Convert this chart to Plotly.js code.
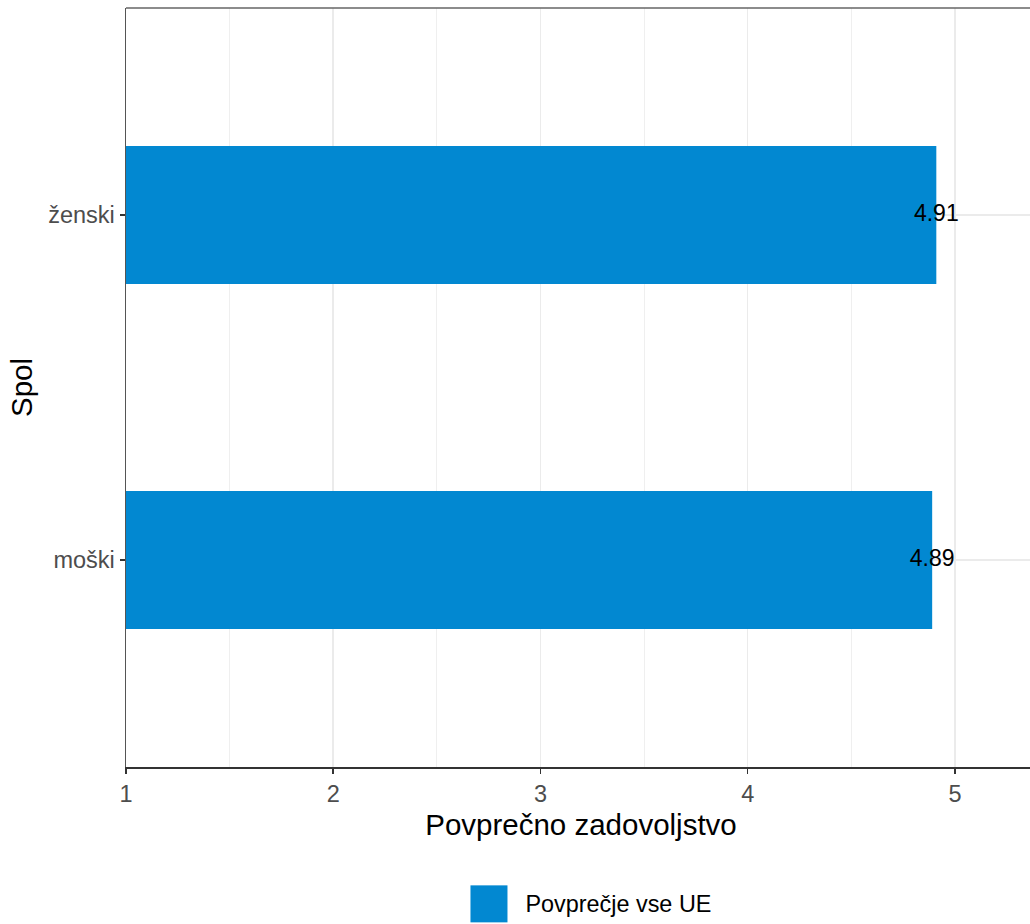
<!DOCTYPE html>
<html>
<head>
<meta charset="utf-8">
<script src="https://cdn.plot.ly/plotly-3.0.1.min.js"></script>
<style>
  html, body { margin: 0; padding: 0; overflow: hidden; background: #fff; }
  #chart { width: 1040px; height: 924px; }
</style>
</head>
<body>
<div id="chart"></div>
<script>
const categories = ['moški', 'ženski'];
const values = [4.89, 4.91];
const labels = ['4.89', '4.91'];
const seriesName = 'Povprečje vse UE';
const xTickVals = [1, 2, 3, 4, 5];
const xMinorVals = [1.5, 2.5, 3.5, 4.5];

const FONT = 'Liberation Sans, Arial, sans-serif';
const BLUE = '#0288d1';

const traces = [
  {
    type: 'bar',
    orientation: 'h',
    y: categories,
    x: values,
    width: 0.4,
    name: seriesName,
    marker: { color: BLUE },
    hoverinfo: 'skip',
    showlegend: true
  },
  {
    type: 'scatter',
    mode: 'text',
    y: categories,
    x: values,
    text: labels,
    textposition: 'middle center',
    textfont: { family: FONT, size: 23, color: '#000' },
    showlegend: false,
    hoverinfo: 'skip'
  }
];

const layout = {
  width: 1040,
  height: 924,
  margin: { l: 126, r: 4, t: 8, b: 157, autoexpand: false },
  paper_bgcolor: '#fff',
  plot_bgcolor: '#fff',
  font: { family: FONT, color: '#4d4d4d' },
  xaxis: {
    range: [1, 5.391],
    tickvals: xTickVals,
    ticktext: xTickVals.map(String),
    tickfont: { family: FONT, size: 23.5, color: '#4d4d4d' },
    ticks: 'outside',
    ticklen: 5,
    tickwidth: 1.5,
    tickcolor: '#333',
    showline: true,
    linecolor: '#333',
    linewidth: 1.8,
    showgrid: true,
    gridcolor: '#ebebeb',
    gridwidth: 1.5,
    minor: { tickvals: xMinorVals, showgrid: true, gridcolor: '#ebebeb', gridwidth: 0.8, ticks: '' },
    zeroline: false,
    title: { text: 'Povprečno zadovoljstvo', font: { family: FONT, size: 29.5, color: '#000' }, standoff: 8 }
  },
  yaxis: {
    type: 'category',
    categoryorder: 'array',
    categoryarray: categories,
    range: [-0.6, 1.6],
    tickfont: { family: FONT, size: 23.5, color: '#4d4d4d' },
    ticks: 'outside',
    ticklen: 5,
    tickwidth: 1.5,
    tickcolor: '#333',
    showline: true,
    linecolor: '#555',
    linewidth: 1.5,
    mirror: true,
    showgrid: true,
    gridcolor: '#ebebeb',
    gridwidth: 1.5,
    zeroline: false,
    title: { text: 'Spol', font: { family: FONT, size: 29.5, color: '#000' }, standoff: 7 }
  },
  shapes: [
    { type: 'line', xref: 'paper', yref: 'paper', x0: 0, x1: 1, y0: 1, y1: 1,
      line: { color: '#666', width: 1.5 } }
  ],
  showlegend: true,
  legend: {
    orientation: 'h',
    xref: 'container', yref: 'container',
    x: 0.4668, xanchor: 'left',
    y: 0.0227, yanchor: 'middle',
    font: { family: FONT, size: 23.4, color: '#000' },
    bgcolor: 'rgba(0,0,0,0)'
  }
};

Plotly.newPlot('chart', traces, layout, { displayModeBar: false, staticPlot: true }).then(function () {
  const gd = document.getElementById('chart');
  const item = gd.querySelector('.legend .traces');
  if (!item) return;
  item.querySelectorAll('.legendpoints path').forEach(function (p) { p.style.opacity = '0'; });
  const txt = item.querySelector('.legendtext');
  const svg = gd.querySelector('.legend').ownerSVGElement;
  if (!txt || !svg) return;
  const tb = txt.getBoundingClientRect();
  const sb = svg.getBoundingClientRect();
  const size = 37;
  const right = tb.left - sb.left - 18;
  const cy = (tb.top + tb.bottom) / 2 - sb.top;
  const r = document.createElementNS('http://www.w3.org/2000/svg', 'rect');
  r.setAttribute('x', right - size);
  r.setAttribute('y', cy - size / 2);
  r.setAttribute('width', size);
  r.setAttribute('height', size);
  r.setAttribute('fill', BLUE);
  svg.appendChild(r);
});
</script>
</body>
</html>
